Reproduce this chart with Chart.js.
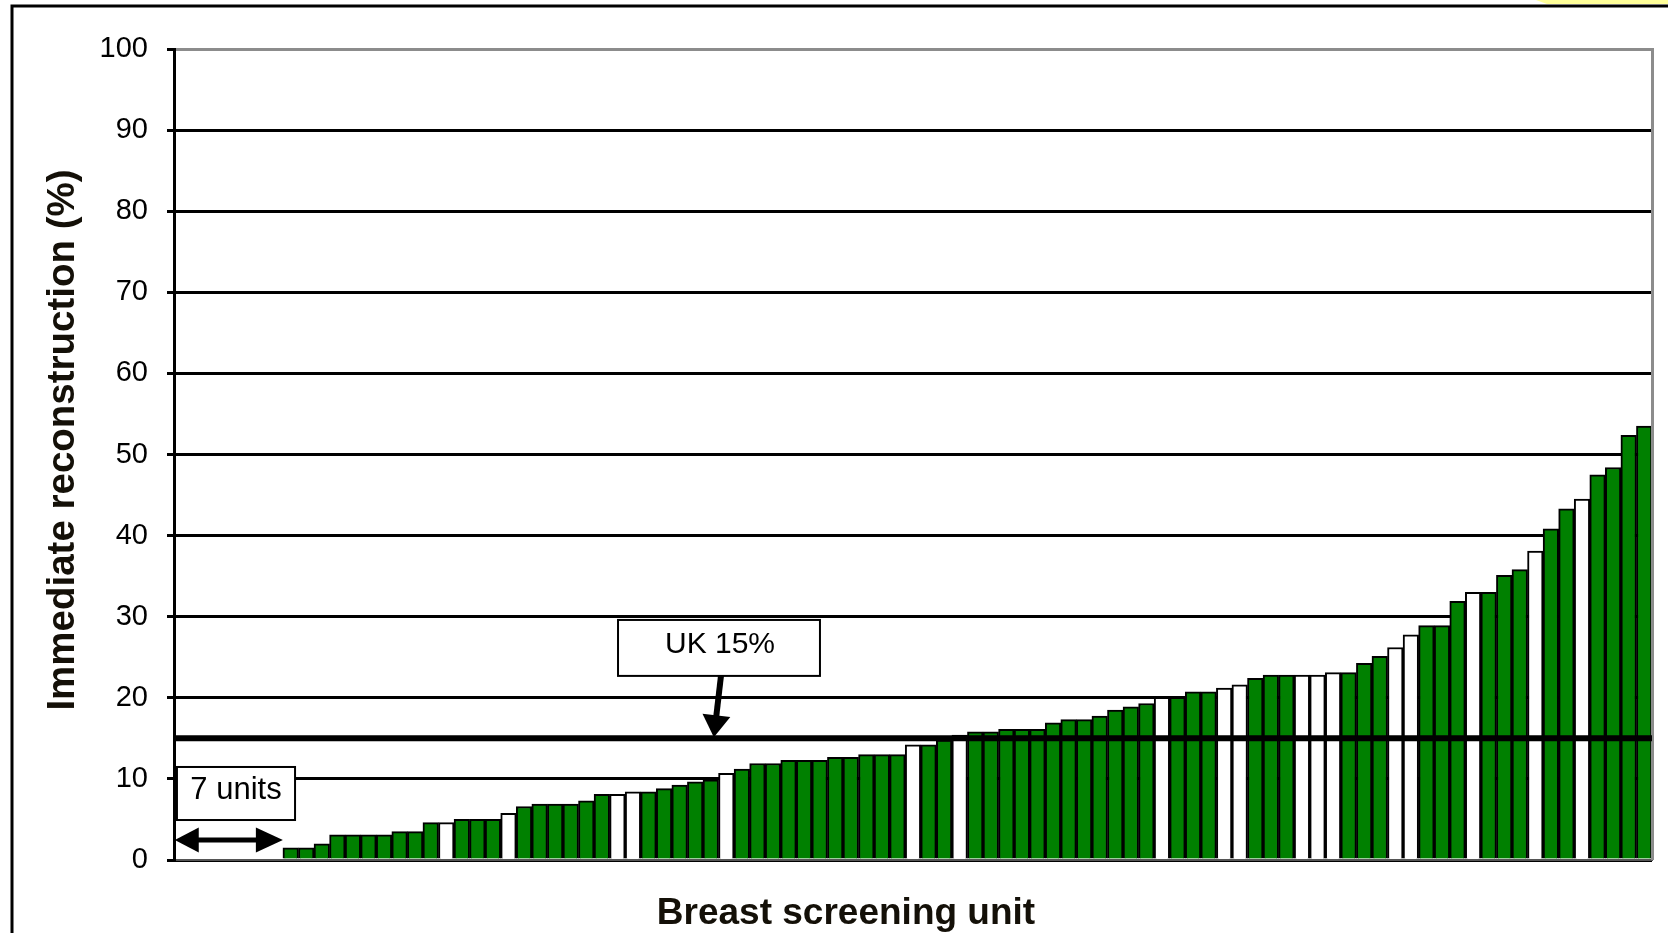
<!DOCTYPE html>
<html>
<head>
<meta charset="utf-8">
<title>Immediate reconstruction by breast screening unit</title>
<script src="https://cdn.jsdelivr.net/npm/chart.js@4.4.0/dist/chart.umd.min.js"></script>
<style>
  html, body { margin: 0; padding: 0; background: #ffffff; }
  #wrap { position: relative; width: 1668px; height: 933px; }
  canvas { display: block; }
</style>
</head>
<body>
<div id="wrap"><canvas id="chart" width="1668" height="933"></canvas></div>
<script>
// ---------------- DATA ----------------
// Immediate reconstruction (%) for each breast screening unit, sorted ascending.
// The first 7 units have 0%.
const unitValues = [
  0, 0, 0, 0, 0, 0, 0,
  1.5, 1.5, 2.0, 3.1, 3.1, 3.1, 3.1, 3.5, 3.5, 4.6,
  4.6, 5.0, 5.0, 5.0, 5.75, 6.6, 6.9, 6.9, 6.9, 7.3,
  8.1, 8.1, 8.4, 8.4, 8.8, 9.25, 9.65, 9.9, 10.7, 11.2,
  11.9, 11.9, 12.3, 12.3, 12.3, 12.65, 12.65, 13.0, 13.0, 13.0,
  14.2, 14.2, 14.8, 15.4, 15.8, 15.8, 16.1, 16.1, 16.1, 16.9,
  17.3, 17.3, 17.75, 18.5, 18.9, 19.3, 20.05, 20.05, 20.75, 20.75,
  21.2, 21.6, 22.4, 22.8, 22.8, 22.8, 22.8, 23.1, 23.1, 24.25,
  25.1, 26.2, 27.75, 28.9, 28.9, 31.9, 33.0, 33.0, 35.1, 35.8,
  38.1, 40.85, 43.3, 44.5, 47.5, 48.4, 52.35, 53.5
];
// Unit group per bar: 'G' = green bar, 'W' = white bar
const unitGroups = [
  'W','W','W','W','W','W','W',
  'G','G','G','G','G','G','G','G','G','G',
  'W','G','G','G','W','G','G','G','G','G',
  'G','W','W','G','G','G','G','G','W','G',
  'G','G','G','G','G','G','G','G','G','G',
  'W','G','G','W','G','G','G','G','G','G',
  'G','G','G','G','G','G','W','G','G','G',
  'W','W','G','G','G','W','W','W','G','G',
  'G','W','W','G','G','G','W','G','G','G',
  'W','G','G','W','G','G','G','G'
];
const unitLabels = unitValues.map((v, i) => 'Unit ' + (i + 1));
const yTickValues = [0, 10, 20, 30, 40, 50, 60, 70, 80, 90, 100];
const ukAverage = 15;
const ukLabel = 'UK 15%';
const zeroUnitsLabel = '7 units';
const xAxisTitle = 'Breast screening unit';
const yAxisTitle = 'Immediate reconstruction (%)';

// ---------------- STYLE / ANNOTATION PLACEMENT (data units) ----------------
const GREEN = '#008000';
const WHITE = '#ffffff';
const FONT = '"Liberation Sans", Arial, "DejaVu Sans", sans-serif';
const ukBox = { x0: 28.04, x1: 41.02, yTop: 29.6, yBottom: 22.7 };
const ukArrow = { x0: 34.66, y0: 22.75, x1: 34.2, y1: 15.15 };
const unitsBox = { x0: -0.31, x1: 7.28, yTop: 11.47, yBottom: 4.93 };
const unitsArrow = { x0: -0.45, x1: 6.5, y: 2.47 };

function drawArrowHead(ctx, tx, ty, ux, uy, len, width) {
  const bx = tx - ux * len, by = ty - uy * len;
  const px = -uy, py = ux;
  ctx.beginPath();
  ctx.moveTo(tx, ty);
  ctx.lineTo(bx + px * width / 2, by + py * width / 2);
  ctx.lineTo(bx - px * width / 2, by - py * width / 2);
  ctx.closePath();
  ctx.fill();
  return [bx, by];
}

const annotationPlugin = {
  id: 'annotations',
  beforeDraw(chart) {
    const ctx = chart.ctx;
    ctx.save();
    ctx.fillStyle = '#ffffff';
    ctx.fillRect(0, 0, chart.width, chart.height);
    ctx.restore();
  },
  afterDatasetsDraw(chart) {
    const { ctx, chartArea } = chart;
    const y = chart.scales.y;
    ctx.save();
    // right border of plot area
    ctx.strokeStyle = '#8c8c8c';
    ctx.lineWidth = 3;
    ctx.beginPath();
    ctx.moveTo(chartArea.right + 0.5, chartArea.top - 1);
    ctx.lineTo(chartArea.right + 0.5, chartArea.bottom);
    ctx.stroke();
    // UK average line
    const yUK = y.getPixelForValue(ukAverage);
    ctx.strokeStyle = '#000';
    ctx.lineWidth = 6;
    ctx.beginPath();
    ctx.moveTo(chartArea.left, yUK);
    ctx.lineTo(chartArea.right, yUK);
    ctx.stroke();
    ctx.restore();
  },
  afterDraw(chart) {
    const { ctx, chartArea } = chart;
    const x = chart.scales.x, y = chart.scales.y;
    ctx.save();
    // outer frame pieces
    ctx.fillStyle = '#ffff99';
    ctx.beginPath();
    ctx.moveTo(1536, 0); ctx.lineTo(1668, 0); ctx.lineTo(1668, 4); ctx.lineTo(1547, 4);
    ctx.closePath(); ctx.fill();
    ctx.strokeStyle = '#000';
    ctx.lineWidth = 3;
    ctx.beginPath();
    ctx.moveTo(12, 933); ctx.lineTo(12, 6); ctx.lineTo(1668, 6);
    ctx.stroke();

    // axis titles
    ctx.fillStyle = '#141008';
    ctx.textAlign = 'center';
    ctx.textBaseline = 'alphabetic';
    ctx.font = 'bold 37px ' + FONT;
    ctx.fillText(xAxisTitle, chartArea.left + 672, chart.height - 9);
    ctx.save();
    ctx.translate(74, chartArea.top + 391);
    ctx.rotate(-Math.PI / 2);
    ctx.font = 'bold 38.5px ' + FONT;
    ctx.fillText(yAxisTitle, 0, 0);
    ctx.restore();

    // UK label box
    const bx0 = x.getPixelForValue(ukBox.x0), bx1 = x.getPixelForValue(ukBox.x1);
    const by0 = y.getPixelForValue(ukBox.yTop), by1 = y.getPixelForValue(ukBox.yBottom);
    ctx.fillStyle = '#fff';
    ctx.fillRect(bx0, by0, bx1 - bx0, by1 - by0);
    ctx.lineWidth = 2;
    ctx.strokeStyle = '#000';
    ctx.strokeRect(bx0, by0, bx1 - bx0, by1 - by0);
    ctx.fillStyle = '#000';
    ctx.font = '30px ' + FONT;
    ctx.textAlign = 'center';
    ctx.textBaseline = 'alphabetic';
    ctx.fillText(ukLabel, (bx0 + bx1) / 2 + 1, by0 + 33);

    // UK arrow
    const ax0 = x.getPixelForValue(ukArrow.x0), ay0 = y.getPixelForValue(ukArrow.y0);
    const ax1 = x.getPixelForValue(ukArrow.x1), ay1 = y.getPixelForValue(ukArrow.y1);
    const len = Math.hypot(ax1 - ax0, ay1 - ay0);
    const ux = (ax1 - ax0) / len, uy = (ay1 - ay0) / len;
    ctx.fillStyle = '#000';
    const base = drawArrowHead(ctx, ax1, ay1, ux, uy, 22, 28);
    ctx.lineWidth = 6;
    ctx.beginPath();
    ctx.moveTo(ax0, ay0);
    ctx.lineTo(base[0] + ux * 2, base[1] + uy * 2);
    ctx.stroke();

    // "7 units" box
    const ux0 = x.getPixelForValue(unitsBox.x0), ux1 = x.getPixelForValue(unitsBox.x1);
    const uy0 = y.getPixelForValue(unitsBox.yTop), uy1 = y.getPixelForValue(unitsBox.yBottom);
    ctx.fillStyle = '#fff';
    ctx.fillRect(ux0, uy0, ux1 - ux0, uy1 - uy0);
    ctx.lineWidth = 2;
    ctx.strokeStyle = '#000';
    ctx.strokeRect(ux0, uy0, ux1 - ux0, uy1 - uy0);
    ctx.fillStyle = '#000';
    ctx.textAlign = 'center';
    ctx.font = '31px ' + FONT;
    ctx.fillText(zeroUnitsLabel, (ux0 + ux1) / 2, uy0 + 32);

    // double-headed arrow spanning the 7 zero units
    const dx0 = x.getPixelForValue(unitsArrow.x0), dx1 = x.getPixelForValue(unitsArrow.x1);
    const dy = y.getPixelForValue(unitsArrow.y);
    const b1 = drawArrowHead(ctx, dx0, dy, -1, 0, 24, 25);
    const b2 = drawArrowHead(ctx, dx1, dy, 1, 0, 27, 25);
    ctx.lineWidth = 5;
    ctx.beginPath();
    ctx.moveTo(b1[0] - 1, dy);
    ctx.lineTo(b2[0] + 1, dy);
    ctx.stroke();
    ctx.restore();
  }
};

new Chart(document.getElementById('chart'), {
  type: 'bar',
  data: {
    labels: unitLabels,
    datasets: [{
      label: 'Immediate reconstruction (%)',
      data: unitValues,
      backgroundColor: unitGroups.map(g => g === 'G' ? GREEN : WHITE),
      borderColor: '#000000',
      borderWidth: 2,
      categoryPercentage: 1.0,
      barPercentage: 1.0
    }]
  },
  options: {
    responsive: false,
    animation: false,
    devicePixelRatio: 1,
    layout: { padding: { left: 40, top: 49, right: 16, bottom: 0 } },
    plugins: {
      legend: { display: false },
      tooltip: { enabled: false },
      title: { display: false }
    },
    scales: {
      x: {
        type: 'category',
        grid: { display: false },
        border: { display: true, color: '#555555', width: 2 },
        ticks: { display: false },
        title: { display: false, text: xAxisTitle },
        afterFit(scale) { scale.height = 73; }
      },
      y: {
        min: 0,
        max: 100,
        afterBuildTicks(scale) { scale.ticks = yTickValues.map(v => ({ value: v })); },
        ticks: {
          stepSize: 10,
          color: '#000',
          padding: 19,
          font: { family: FONT, size: 29 }
        },
        grid: {
          color: ctx => (ctx.tick && ctx.tick.value === 100) ? '#8c8c8c' : '#000000',
          lineWidth: 3,
          tickLength: 7,
          tickColor: '#000000',
          drawTicks: true
        },
        border: { display: true, color: '#000000', width: 3 },
        title: { display: false, text: yAxisTitle },
        afterFit(scale) { scale.width = 134; }
      }
    }
  },
  plugins: [annotationPlugin]
});
</script>
</body>
</html>
